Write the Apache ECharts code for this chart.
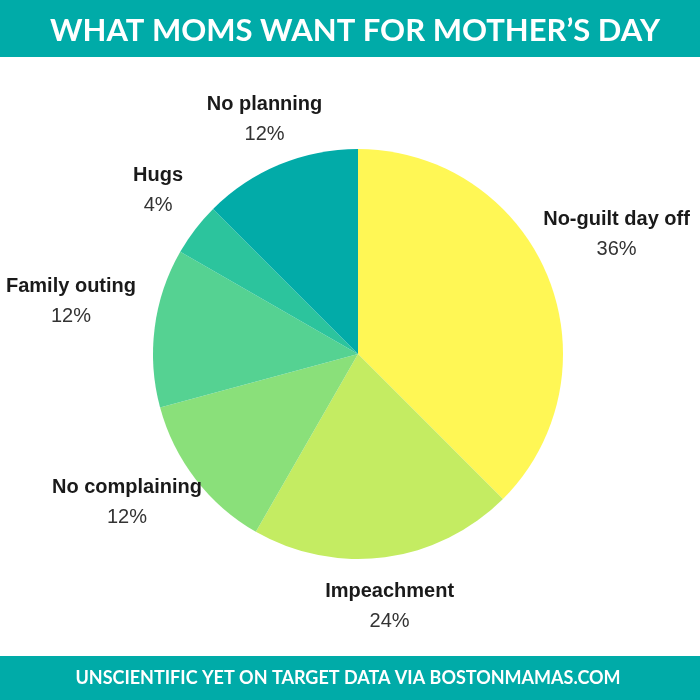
<!DOCTYPE html>
<html><head><meta charset="utf-8">
<script src="https://cdn.jsdelivr.net/npm/echarts@6/dist/echarts.min.js"></script>
<style>html,body{margin:0;padding:0;background:#fff}#c{width:700px;height:700px}</style>
</head><body><div id="c"></div>
<script>
// ---- data ----
const categories = ['No-guilt day off', 'Impeachment', 'No complaining', 'Family outing', 'Hugs', 'No planning'];
const sliceValues = [37.5, 20.8, 12.5, 12.5, 4.2, 12.5];   // slice sizes as drawn
const pctLabels = [36, 24, 12, 12, 4, 12];                 // percentages as printed
const colors = ['#FFF755', '#C4EC62', '#8AE07A', '#55D292', '#2CC49D', '#02ABA8'];
const titleText = 'WHAT MOMS WANT FOR MOTHER\u2019S DAY';
const footerText = 'UNSCIENTIFIC YET ON TARGET DATA VIA BOSTONMAMAS.COM';

// ---- layout ----
const CX = 358, CY = 354, R = 205;
const LABEL_R = 227, HALF_H = 25, TEXT_DY = 2;
const nameFont = 'bold 20px "Liberation Sans"';
const pctFont = '20px "Liberation Sans"';
const mctx = document.createElement('canvas').getContext('2d');
function tw(s, f) { mctx.font = f; return mctx.measureText(s).width; }

const totalPct = pctLabels.reduce((a, b) => a + b, 0);
const labelPos = [];
let acc = 0;
pctLabels.forEach((p, i) => {
  const mid = (acc + p / 2) / totalPct * 2 * Math.PI; acc += p;
  const dx = Math.sin(mid), dy = -Math.cos(mid);
  const hw = Math.max(tw(categories[i], nameFont), tw(p + '%', pctFont)) / 2;
  const ex = Math.abs(dx) > 1e-6 ? hw / Math.abs(dx) : Infinity;
  const ey = Math.abs(dy) > 1e-6 ? HALF_H / Math.abs(dy) : Infinity;
  const d = LABEL_R + Math.min(ex, ey);
  let x = CX + d * dx, y = CY + d * dy + TEXT_DY;
  x = Math.min(Math.max(x, hw + 6), 700 - hw - 6);
  labelPos.push([x, y]);
});

const chart = echarts.init(document.getElementById('c'), null, {renderer: 'canvas'});
chart.setOption({
  animation: false,
  backgroundColor: '#ffffff',
  graphic: [
    {type: 'rect', shape: {x: 0, y: 0, width: 700, height: 57}, style: {fill: '#00ABA8'}, z: 0},
    {type: 'rect', shape: {x: 0, y: 656, width: 700, height: 44}, style: {fill: '#00ABA8'}, z: 0},
    {type: 'text', x: 355, y: 31, z: 10, style: {text: titleText, fill: '#ffffff', font: 'bold 31px Lato',
      align: 'center', verticalAlign: 'middle', textAlign: 'center', textVerticalAlign: 'middle'}},
    {type: 'text', x: 348, y: 678, z: 10, style: {text: footerText, fill: '#ffffff', font: 'bold 18px Lato',
      align: 'center', verticalAlign: 'middle', textAlign: 'center', textVerticalAlign: 'middle'}}
  ],
  series: [{
    type: 'pie',
    center: [CX, CY],
    radius: R,
    startAngle: 90,
    clockwise: true,
    avoidLabelOverlap: false,
    silent: true,
    itemStyle: {borderWidth: 0},
    label: {
      show: true,
      position: 'outside',
      overflow: 'none',
      formatter: p => '{n|' + p.name + '}\n{p|' + pctLabels[p.dataIndex] + '%}',
      rich: {
        n: {fontFamily: 'Liberation Sans', fontWeight: 'bold', fontSize: 20, color: '#1a1a1a', lineHeight: 30, align: 'center'},
        p: {fontFamily: 'Liberation Sans', fontSize: 20, color: '#333333', lineHeight: 30, align: 'center'}
      }
    },
    labelLine: {show: false},
    labelLayout: p => ({x: labelPos[p.dataIndex][0], y: labelPos[p.dataIndex][1], align: 'center', verticalAlign: 'middle'}),
    data: categories.map((c, i) => ({name: c, value: sliceValues[i], itemStyle: {color: colors[i]}}))
  }]
});
</script>
</body></html>
